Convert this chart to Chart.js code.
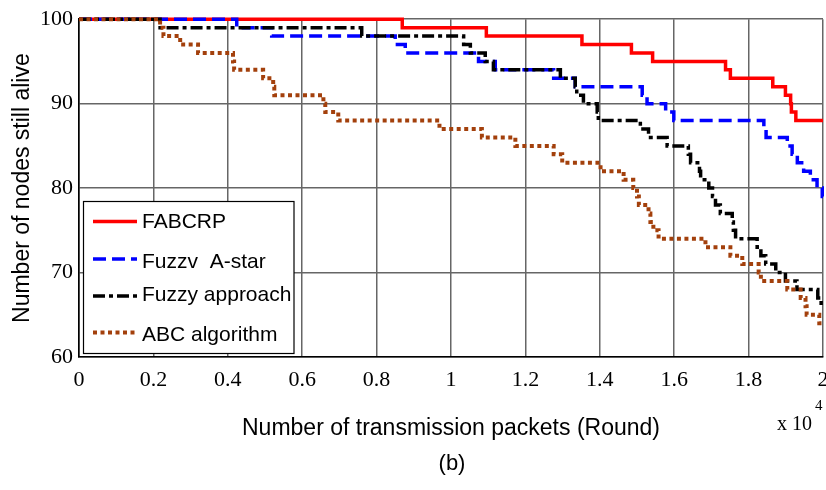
<!DOCTYPE html>
<html>
<head>
<meta charset="utf-8">
<script src="https://cdn.jsdelivr.net/npm/chart.js@4/dist/chart.umd.min.js"></script>
<style>
  html, body { margin: 0; padding: 0; background: #fff; }
  #wrap { position: relative; width: 826px; height: 490px; }
</style>
</head>
<body>
<div id="wrap"><canvas id="chart" width="826" height="490"></canvas></div>
<script>
// Network lifetime: nodes alive vs. rounds (x in rounds, axis shows x 10^4)
const xTicks = [0, 2000, 4000, 6000, 8000, 10000, 12000, 14000, 16000, 18000, 20000];
const yTicks = [60, 70, 80, 90, 100];
const seriesLabels = ['FABCRP', 'Fuzzv  A-star', 'Fuzzy approach', 'ABC algorithm'];

const fabcrpX = [0, 8690, 10950, 13520, 14850, 15420, 17380, 17510, 18650, 18990, 19130, 19150, 19270, 20000];
const fabcrpY = [100, 99, 98, 97, 96, 95, 94, 93, 92, 91, 90, 89, 88, 88];

const astarX = [0, 4240, 5180, 8500, 8770, 10740, 11190, 12760, 13340, 15140, 15270, 15770, 15990,
                18410, 18470, 19040, 19170, 19310, 19480, 19660, 19840, 19980, 20000];
const astarY = [100, 99, 98, 97, 96, 95, 94, 93, 92, 91, 90, 89, 88,
                87, 86, 85, 84, 83, 82, 81, 80, 79, 79];

const fuzzyX = [0, 2180, 7600, 10340, 10520, 10920, 11140, 12940, 13340, 13380, 13560, 13930, 13960,
                15090, 15310, 15810, 16380, 16440, 16680, 16710, 16930, 17030, 17110, 17240,
                17560, 17590, 17650, 18230, 18330, 18460, 18730, 18990, 19300, 19860, 19950, 20000];
const fuzzyY = [100, 99, 98, 97, 96, 95, 94, 93, 92, 91, 90, 89, 88,
                87, 86, 85, 84, 83, 82, 81, 80, 79, 78, 77,
                76, 75, 74, 73, 72, 71, 70, 69, 68, 67, 66, 66];

const abcX = [0, 2180, 2270, 2720, 3200, 4140, 4170, 4950, 5220, 5250, 6570, 6620, 6970,
              9690, 10830, 11730, 12760, 12990, 14020, 14640, 14900, 15000, 15050, 15310, 15360,
              15440, 15580, 16840, 17510, 17830, 18270, 18330, 19040, 19400, 19530, 19560, 19900, 20000];
const abcY = [100, 99, 98, 97, 96, 95, 94, 93, 92, 91, 90, 89, 88,
              87, 86, 85, 84, 83, 82, 81, 80, 79, 78, 77, 76,
              75, 74, 73, 72, 71, 70, 69, 68, 67, 66, 65, 64, 64];

const toPoints = (xs, ys) => xs.map((x, i) => ({ x, y: ys[i] }));

// later series drawn on top, as in the original plot
const datasets = [
    { label: seriesLabels[0], data: toPoints(fabcrpX, fabcrpY), borderColor: '#ff0000', borderWidth: 3.5, borderDash: [], order: 4 },
    { label: seriesLabels[1], data: toPoints(astarX, astarY), borderColor: '#0000ff', borderWidth: 3.5, borderDash: [13, 6], order: 3 },
    { label: seriesLabels[2], data: toPoints(fuzzyX, fuzzyY), borderColor: '#000000', borderWidth: 3.5, borderDash: [12, 4, 4, 4], order: 2 },
    { label: seriesLabels[3], data: toPoints(abcX, abcY), borderColor: '#a3400c', borderWidth: 4, borderDash: [4, 3.5], order: 1 }
].map(d => Object.assign(d, { stepped: true, pointRadius: 0, fill: false, borderCapStyle: 'butt', clip: 6 }));

// legend box inside the plot, bottom-left, like the MATLAB figure
const boxLegend = {
    id: 'boxLegend',
    afterDatasetsDraw(chart) {
        const ctx = chart.ctx;
        const rows = [
            { ly: 221.5, ty: 228 },
            { ly: 259, ty: 268 },
            { ly: 296, ty: 301 },
            { ly: 332.5, ty: 341 }
        ];
        ctx.save();
        ctx.fillStyle = '#fff';
        ctx.fillRect(83.5, 201.5, 210.5, 152);
        ctx.strokeStyle = '#000';
        ctx.lineWidth = 1.2;
        ctx.strokeRect(83.5, 201.5, 210.5, 152);
        chart.data.datasets.forEach((ds, i) => {
            const r = rows[i];
            ctx.beginPath();
            ctx.strokeStyle = ds.borderColor;
            ctx.lineWidth = ds.borderWidth;
            ctx.setLineDash(ds.borderDash);
            ctx.moveTo(93, r.ly);
            ctx.lineTo(137, r.ly);
            ctx.stroke();
            ctx.setLineDash([]);
            ctx.fillStyle = '#000';
            ctx.font = '21px "Liberation Sans", Arial, sans-serif';
            ctx.textBaseline = 'alphabetic';
            ctx.textAlign = 'left';
            ctx.fillText(ds.label, 142, r.ty);
        });
        ctx.restore();
    },
    afterDraw(chart) {
        const ctx = chart.ctx;
        ctx.save();
        ctx.fillStyle = '#000';
        ctx.textBaseline = 'alphabetic';
        ctx.font = '20px "Liberation Serif", "Times New Roman", serif';
        ctx.fillText('x 10', 777, 430);
        ctx.font = '15px "Liberation Serif", "Times New Roman", serif';
        ctx.fillText('4', 815, 410);
        ctx.font = '22px "Liberation Sans", Arial, sans-serif';
        ctx.textAlign = 'center';
        ctx.fillText('(b)', 452, 470);
        ctx.restore();
    }
};

new Chart(document.getElementById('chart'), {
    type: 'line',
    data: { datasets },
    options: {
        responsive: false,
        animation: false,
        devicePixelRatio: 1,
        layout: { padding: { top: 18, right: 3, left: 0, bottom: 0 } },
        plugins: {
            legend: { display: false },
            tooltip: { enabled: false }
        },
        scales: {
            x: {
                type: 'linear',
                min: 0,
                max: 20000,
                afterBuildTicks: s => { s.ticks = xTicks.map(v => ({ value: v })); },
                afterFit: s => { s.height = 133; s.paddingLeft = 0; s.paddingRight = 0; },
                ticks: {
                    color: '#000',
                    padding: 10,
                    maxRotation: 0,
                    autoSkip: false,
                    font: { family: '"Liberation Serif", "Times New Roman", serif', size: 22 },
                    callback: v => String(+(v / 10000).toFixed(1))
                },
                grid: { color: '#666666', lineWidth: 1.5, drawTicks: false },
                border: { color: '#000', width: 1.6 },
                title: {
                    display: true,
                    text: 'Number of transmission packets (Round)',
                    color: '#000',
                    font: { family: '"Liberation Sans", Arial, sans-serif', size: 23 },
                    padding: { top: 0, bottom: 48 }
                }
            },
            y: {
                min: 60,
                max: 100,
                afterBuildTicks: s => { s.ticks = yTicks.map(v => ({ value: v })); },
                afterFit: s => { s.width = 79; },
                ticks: {
                    color: '#000',
                    padding: 6,
                    font: { family: '"Liberation Serif", "Times New Roman", serif', size: 22 }
                },
                grid: { color: '#666666', lineWidth: 1.5, drawTicks: false },
                border: { color: '#000', width: 1.6 },
                title: {
                    display: true,
                    text: 'Number of nodes still alive',
                    color: '#000',
                    font: { family: '"Liberation Sans", Arial, sans-serif', size: 23 },
                    padding: { top: 9, bottom: 0 }
                }
            }
        }
    },
    plugins: [boxLegend]
});
</script>
</body>
</html>
